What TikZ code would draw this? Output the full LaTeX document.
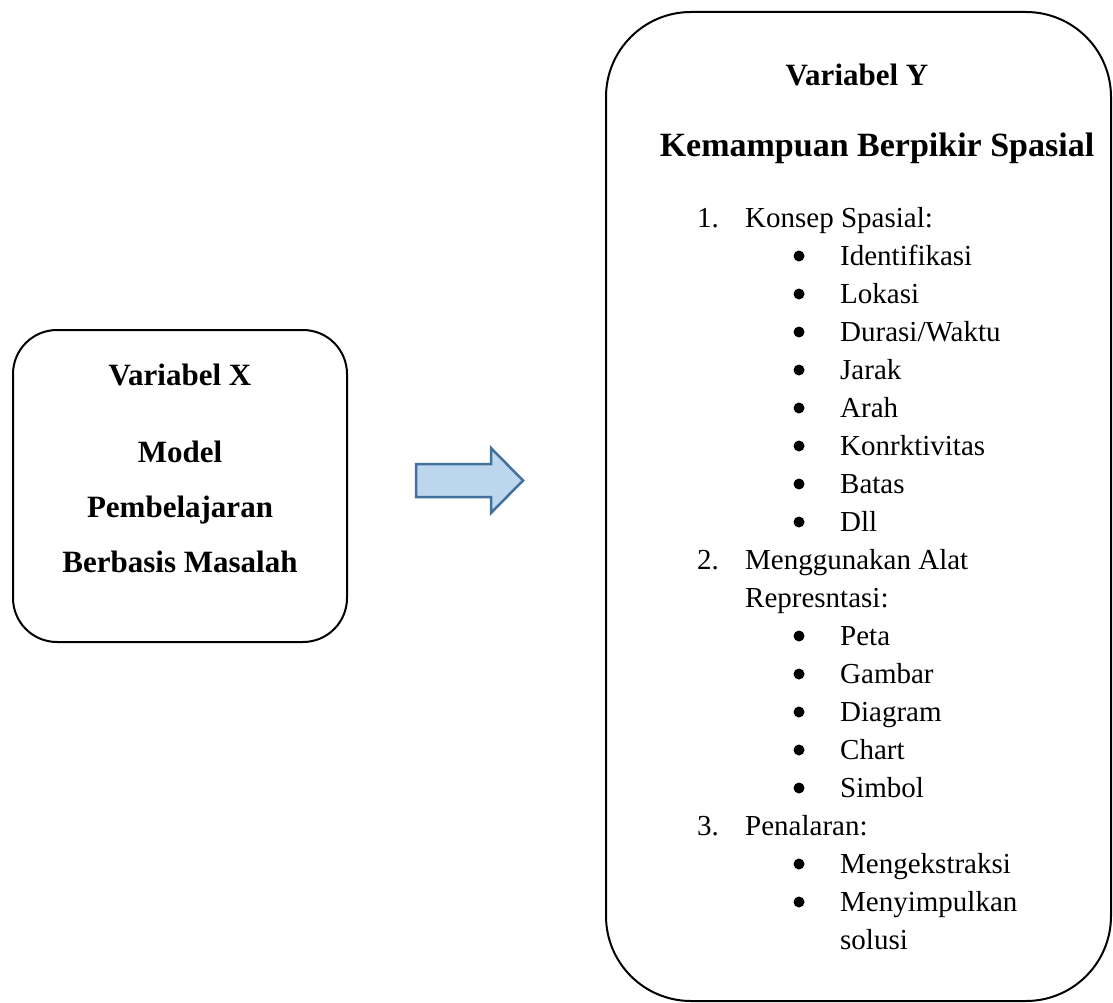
\documentclass[tikz,border=0pt]{standalone}
\usepackage{fontspec}
\setmainfont{Liberation Serif}
\definecolor{biruisi}{HTML}{BDD7EE}
\definecolor{birugaris}{HTML}{41719C}
\begin{document}
\begin{tikzpicture}[x=1pt, y=-1pt,
  kotak/.style={draw, line width=2pt, inner sep=0pt},
  judul/.style={font=\fontsize{31}{36}\selectfont\bfseries, inner sep=0pt, anchor=base},
  isi/.style={font=\fontsize{29}{34}\selectfont, inner sep=0pt, anchor=base west},
  panah/.style={draw=birugaris, fill=biruisi, line width=2.5pt, line join=miter}]
\useasboundingbox (0,0) rectangle (1113,1003);
\node[kotak, rounded corners=44pt, minimum width=334pt, minimum height=312pt] (kotakX) at (180,486) {};
\node[kotak, rounded corners=85pt, minimum width=505pt, minimum height=989pt] (kotakY) at (858.5,506.5) {};
\node[judul] (varX) at (180,385) {Variabel X};
\node[judul] (model) at (180,462) {Model};
\node[judul] (pemb) at (180,517) {Pembelajaran};
\node[judul] (masalah) at (180,572) {Berbasis Masalah};
\draw[panah] (416,464) -- (491,464) -- (491,448) -- (523,480.5) -- (491,513) -- (491,497) -- (416,497) -- cycle;
\node[judul] (varY) at (857,86) {Variabel Y};
\node[judul, font=\fontsize{34}{40}\selectfont\bfseries] (spasial) at (877,157) {Kemampuan Berpikir Spasial};
\node[isi] (no1) at (697,227) {1.};
\node[isi] (konsep) at (745,227) {Konsep Spasial:};
\foreach \teks [count=\i] in {Identifikasi, Lokasi, Durasi/Waktu, Jarak, Arah, Konrktivitas, Batas, Dll}
{
  \fill ({799},{218+38*\i}) circle (5.5);
  \node[isi] (a\i) at ({840},{227+38*\i}) {\teks};
}
\node[isi] (no2) at (697,569) {2.};
\node[isi] (alat) at (745,569) {Menggunakan Alat};
\node[isi] (repr) at (745,607) {Represntasi:};
\foreach \teks [count=\i] in {Peta, Gambar, Diagram, Chart, Simbol}
{
  \fill ({799},{598+38*\i}) circle (5.5);
  \node[isi] (b\i) at ({840},{607+38*\i}) {\teks};
}
\node[isi] (no3) at (697,835) {3.};
\node[isi] (nalar) at (745,835) {Penalaran:};
\fill (799,864) circle (5.5);
\node[isi] (c1) at (840,873) {Mengekstraksi};
\fill (799,902) circle (5.5);
\node[isi] (c2) at (840,911) {Menyimpulkan};
\node[isi] (c3) at (840,949) {solusi};
\end{tikzpicture}
\end{document}
